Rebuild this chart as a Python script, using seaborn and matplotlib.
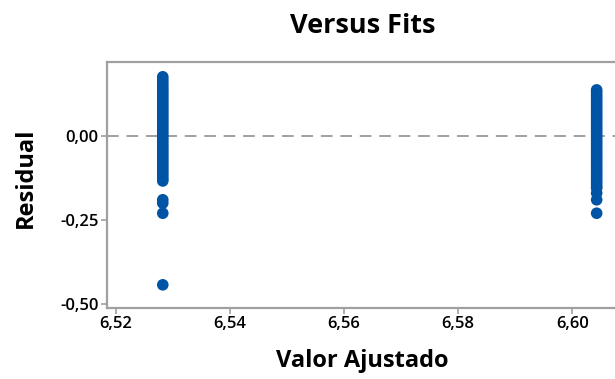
import numpy as np
import pandas as pd
import matplotlib
matplotlib.use("Agg")
import matplotlib.pyplot as plt
import seaborn as sns
from matplotlib.ticker import FuncFormatter

# Fitted values of the two groups
fit_low = 6.5282
fit_high = 6.6043

# Residuals observed at each fitted value
resid_low = [0.176, 0.168, 0.160, 0.152, 0.145, 0.138, 0.131, 0.124, 0.117, 0.110,
             0.103, 0.096, 0.089, 0.082, 0.075, 0.068, 0.061, 0.054, 0.047, 0.040,
             0.033, 0.026, 0.019, 0.012, 0.005, -0.002, -0.009, -0.016, -0.023, -0.030,
             -0.037, -0.044, -0.051, -0.058, -0.065, -0.072, -0.079, -0.086, -0.093,
             -0.100, -0.107, -0.114, -0.121, -0.128, -0.134, -0.190, -0.200, -0.230,
             -0.443]
resid_high = [0.137, 0.130, 0.123, 0.116, 0.109, 0.102, 0.095, 0.088, 0.081, 0.074,
              0.067, 0.060, 0.053, 0.046, 0.039, 0.032, 0.025, 0.018, 0.011, 0.004,
              -0.003, -0.010, -0.017, -0.024, -0.031, -0.038, -0.045, -0.052, -0.059,
              -0.066, -0.073, -0.080, -0.087, -0.094, -0.101, -0.108, -0.115, -0.122,
              -0.129, -0.136, -0.143, -0.150, -0.155, -0.170, -0.190, -0.230]

x_ticks = [6.52, 6.54, 6.56, 6.58, 6.60]
y_ticks = [-0.50, -0.25, 0.00]

df = pd.DataFrame({
    "fit": [fit_low] * len(resid_low) + [fit_high] * len(resid_high),
    "resid": resid_low + resid_high,
})

sns.set_style("white")
plt.rcParams["font.family"] = ["Open Sans", "DejaVu Sans"]
plt.rcParams["text.color"] = "black"
plt.rcParams["axes.labelcolor"] = "black"

W, H = 615, 379
fig = plt.figure(figsize=(W / 100, H / 100), dpi=100)
left, right, top, bottom = 107, 636, 62, 308
ax = fig.add_axes([left / W, 1 - bottom / H, (right - left) / W, (bottom - top) / H])

blue = "#0054A6"
grey = "#A0A0A0"

ax.axhline(0, color=grey, lw=1.4, ls=(0, (6, 4)), zorder=1)
sns.scatterplot(data=df, x="fit", y="resid", ax=ax, s=70, color=blue,
                edgecolor="none", linewidth=0, zorder=3, legend=False)

ax.set_xlim(6.51842, 6.6112)
ax.set_ylim(-0.512, 0.220)
ax.set_xticks(x_ticks)
ax.set_yticks(y_ticks)
comma = FuncFormatter(lambda v, p: f"{v:.2f}".replace(".", ","))
ax.xaxis.set_major_formatter(comma)
ax.yaxis.set_major_formatter(comma)

for sp in ax.spines.values():
    sp.set_color(grey)
    sp.set_linewidth(1.6)
ax.tick_params(axis="both", which="major", direction="out", length=4, width=1.2,
               color=grey, labelsize=12, labelcolor="black", pad=2)
ax.tick_params(bottom=True, left=True)
for lab in ax.get_xticklabels() + ax.get_yticklabels():
    lab.set_fontweight("semibold")

ax.set_xlabel("Valor Ajustado", fontsize=17, fontweight="bold")
ax.set_ylabel("Residual", fontsize=17, fontweight="bold")
ax.xaxis.set_label_coords((362 - left) / (right - left), -(361 - bottom) / (bottom - top))
ax.yaxis.set_label_coords((26 - left) / (right - left), (bottom - 178) / (bottom - top))
ax.xaxis.label.set_va("center")
ax.yaxis.label.set_va("center")
fig.text(363 / W, 1 - 26 / H, "Versus Fits", ha="center", va="center",
         fontsize=19.5, fontweight="bold")

fig.savefig("out.png", dpi=100)
